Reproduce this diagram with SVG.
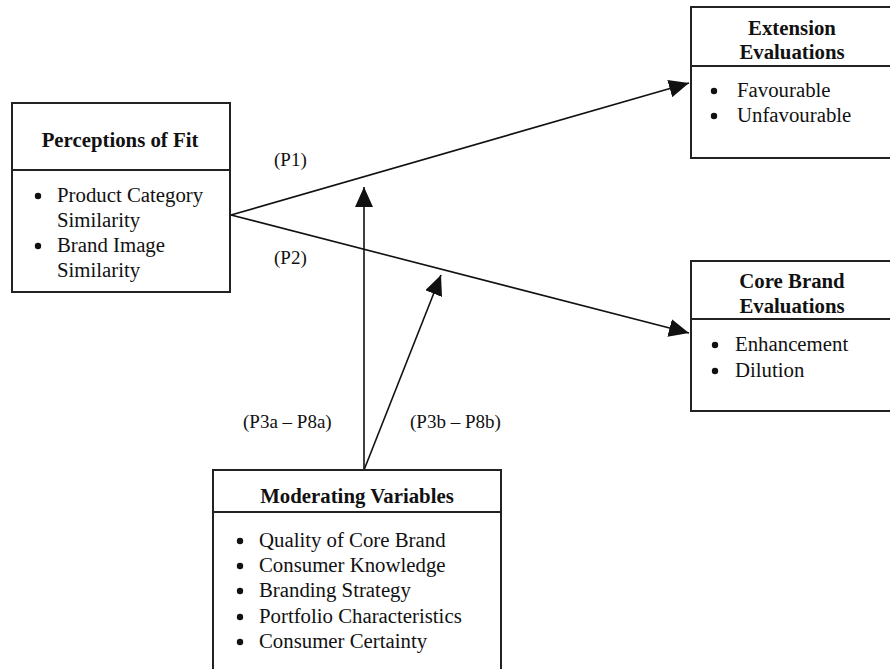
<svg xmlns="http://www.w3.org/2000/svg" width="890" height="669" viewBox="0 0 890 669">
<style>
.box{fill:#fff;stroke:#222;stroke-width:2}
.div{stroke:#222;stroke-width:2}
.t{font-family:"Liberation Serif","Times New Roman",serif;font-size:20.8px;fill:#111}
.l{font-size:19px}
.b{font-weight:bold;text-anchor:middle}
.c{stroke:#111;stroke-width:1.6;fill:none}
.d{fill:#111}
</style>
<defs>
<marker id="ah" markerUnits="userSpaceOnUse" markerWidth="22" markerHeight="18" refX="20" refY="9" orient="auto">
<path d="M0,0 L20,9 L0,18 z" fill="#111"/>
</marker>
</defs>
<rect width="890" height="669" fill="#fff"/>
<g id="connectors">
<line class="c" x1="231" y1="215" x2="689" y2="83" marker-end="url(#ah)"/>
<line class="c" x1="231" y1="215" x2="689" y2="333" marker-end="url(#ah)"/>
<line class="c" x1="364" y1="470" x2="364" y2="187" marker-end="url(#ah)"/>
<line class="c" x1="364" y1="470" x2="441" y2="275" marker-end="url(#ah)"/>
<text class="t l" x="274" y="166">(P1)</text>
<text class="t l" x="274" y="264">(P2)</text>
<text class="t l" x="243" y="428">(P3a – P8a)</text>
<text class="t l" x="410" y="428">(P3b – P8b)</text>
</g>
<g id="perceptions">
<rect class="box" x="12" y="103" width="218" height="189"/>
<line class="div" x1="12" y1="170" x2="230" y2="170"/>
<text class="t b" x="120" y="147">Perceptions of Fit</text>
<circle class="d" cx="38" cy="196" r="3.2"/><text class="t" x="57" y="202">Product Category</text>
<text class="t" x="57" y="227">Similarity</text>
<circle class="d" cx="38" cy="246" r="3.2"/><text class="t" x="57" y="252">Brand Image</text>
<text class="t" x="57" y="277">Similarity</text>
</g>
<g id="extension">
<rect class="box" x="691" y="7" width="220" height="151"/>
<line class="div" x1="691" y1="66" x2="890" y2="66"/>
<text class="t b" x="792" y="35">Extension</text>
<text class="t b" x="792" y="59">Evaluations</text>
<circle class="d" cx="714" cy="91" r="3.2"/><text class="t" x="737" y="97">Favourable</text>
<circle class="d" cx="714" cy="116" r="3.2"/><text class="t" x="737" y="122">Unfavourable</text>
</g>
<g id="corebrand">
<rect class="box" x="691" y="261" width="220" height="150"/>
<line class="div" x1="691" y1="319" x2="890" y2="319"/>
<text class="t b" x="792" y="288">Core Brand</text>
<text class="t b" x="792" y="313">Evaluations</text>
<circle class="d" cx="715" cy="345" r="3.2"/><text class="t" x="735" y="351">Enhancement</text>
<circle class="d" cx="715" cy="371" r="3.2"/><text class="t" x="735" y="377">Dilution</text>
</g>
<g id="moderating">
<rect class="box" x="213" y="470" width="288" height="215"/>
<line class="div" x1="213" y1="512" x2="501" y2="512"/>
<text class="t b" x="357" y="503">Moderating Variables</text>
<circle class="d" cx="240" cy="541" r="3.2"/><text class="t" x="259" y="547">Quality of Core Brand</text>
<circle class="d" cx="240" cy="566" r="3.2"/><text class="t" x="259" y="572">Consumer Knowledge</text>
<circle class="d" cx="240" cy="591" r="3.2"/><text class="t" x="259" y="597">Branding Strategy</text>
<circle class="d" cx="240" cy="617" r="3.2"/><text class="t" x="259" y="623">Portfolio Characteristics</text>
<circle class="d" cx="240" cy="642" r="3.2"/><text class="t" x="259" y="648">Consumer Certainty</text>
</g>
</svg>
